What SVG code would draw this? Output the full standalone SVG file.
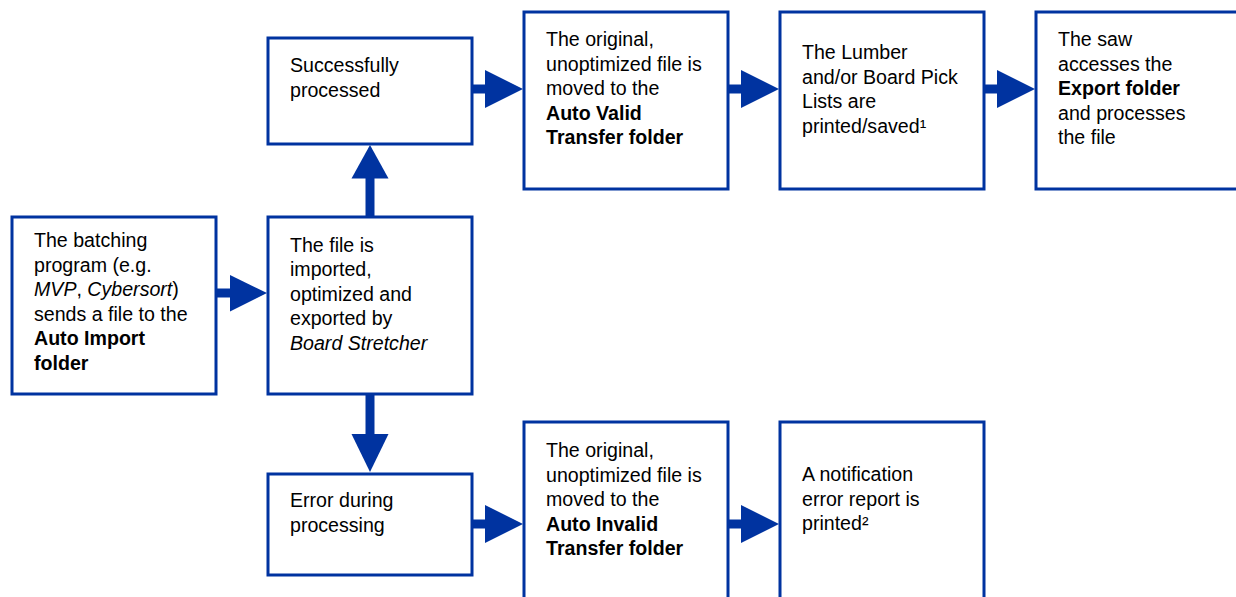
<svg xmlns="http://www.w3.org/2000/svg" width="1236" height="597" viewBox="0 0 1236 597">
<style>
.box{fill:#fff;stroke:#0033A0;stroke-width:3}
.t{font-family:"Liberation Sans",Arial,sans-serif;font-size:19.6px;fill:#000}
.b{font-weight:bold}
.i{font-style:italic}
.shaft{stroke:#0033A0;stroke-width:9;fill:none}
.head{fill:#0033A0}
</style>
<rect width="1236" height="597" fill="#fff"/>
<g id="connectors">
<line class="shaft" x1="217" y1="293" x2="231" y2="293"/><polygon class="head" points="230,275 267,293 230,311.5"/>
<line class="shaft" x1="370" y1="216" x2="370" y2="177"/><polygon class="head" points="351.5,178.5 370,145 388.5,178.5"/>
<line class="shaft" x1="370" y1="395" x2="370" y2="435"/><polygon class="head" points="351.5,434 370,472 388.5,434"/>
<line class="shaft" x1="473" y1="89" x2="486" y2="89"/><polygon class="head" points="485,70 523,89 485,108"/>
<line class="shaft" x1="729" y1="89" x2="742" y2="89"/><polygon class="head" points="741,70 779,89 741,108"/>
<line class="shaft" x1="985" y1="89" x2="998" y2="89"/><polygon class="head" points="997,70 1035,89 997,108"/>
<line class="shaft" x1="473" y1="524" x2="486" y2="524"/><polygon class="head" points="485,505 523,524 485,543"/>
<line class="shaft" x1="729" y1="524" x2="742" y2="524"/><polygon class="head" points="741,505 779,524 741,543"/>
</g>
<g id="batching">
<rect class="box" x="12" y="217" width="204" height="177"/>
<text class="t" x="34" y="247">The batching</text>
<text class="t" x="34" y="271.5">program (e.g.</text>
<text class="t" x="34" y="296"><tspan class="i">MVP</tspan>, <tspan class="i">Cybersort</tspan>)</text>
<text class="t" x="34" y="320.5">sends a file to the</text>
<text class="t b" x="34" y="345">Auto Import</text>
<text class="t b" x="34" y="369.5">folder</text>
</g>
<g id="imported">
<rect class="box" x="268" y="217" width="204" height="177"/>
<text class="t" x="290" y="251.5">The file is</text>
<text class="t" x="290" y="276">imported,</text>
<text class="t" x="290" y="300.5">optimized and</text>
<text class="t" x="290" y="325">exported by</text>
<text class="t i" x="290" y="349.5">Board Stretcher</text>
</g>
<g id="success">
<rect class="box" x="268" y="38" width="204" height="106"/>
<text class="t" x="290" y="72">Successfully</text>
<text class="t" x="290" y="96.5">processed</text>
</g>
<g id="valid">
<rect class="box" x="524" y="12" width="204" height="177"/>
<text class="t" x="546" y="46">The original,</text>
<text class="t" x="546" y="70.5">unoptimized file is</text>
<text class="t" x="546" y="95">moved to the</text>
<text class="t b" x="546" y="119.5">Auto Valid</text>
<text class="t b" x="546" y="144">Transfer folder</text>
</g>
<g id="picklists">
<rect class="box" x="780" y="12" width="204" height="177"/>
<text class="t" x="802" y="59">The Lumber</text>
<text class="t" x="802" y="83.5">and/or Board Pick</text>
<text class="t" x="802" y="108">Lists are</text>
<text class="t" x="802" y="132.5">printed/saved¹</text>
</g>
<g id="saw">
<rect class="box" x="1036" y="12" width="210" height="177"/>
<text class="t" x="1058" y="46">The saw</text>
<text class="t" x="1058" y="70.5">accesses the</text>
<text class="t b" x="1058" y="95">Export folder</text>
<text class="t" x="1058" y="119.5">and processes</text>
<text class="t" x="1058" y="144">the file</text>
</g>
<g id="error">
<rect class="box" x="268" y="474" width="204" height="101"/>
<text class="t" x="290" y="507">Error during</text>
<text class="t" x="290" y="531.5">processing</text>
</g>
<g id="invalid">
<rect class="box" x="524" y="422" width="204" height="190"/>
<text class="t" x="546" y="457">The original,</text>
<text class="t" x="546" y="481.5">unoptimized file is</text>
<text class="t" x="546" y="506">moved to the</text>
<text class="t b" x="546" y="530.5">Auto Invalid</text>
<text class="t b" x="546" y="555">Transfer folder</text>
</g>
<g id="notification">
<rect class="box" x="780" y="422" width="204" height="190"/>
<text class="t" x="802" y="481">A notification</text>
<text class="t" x="802" y="505.5">error report is</text>
<text class="t" x="802" y="530">printed²</text>
</g>
</svg>
